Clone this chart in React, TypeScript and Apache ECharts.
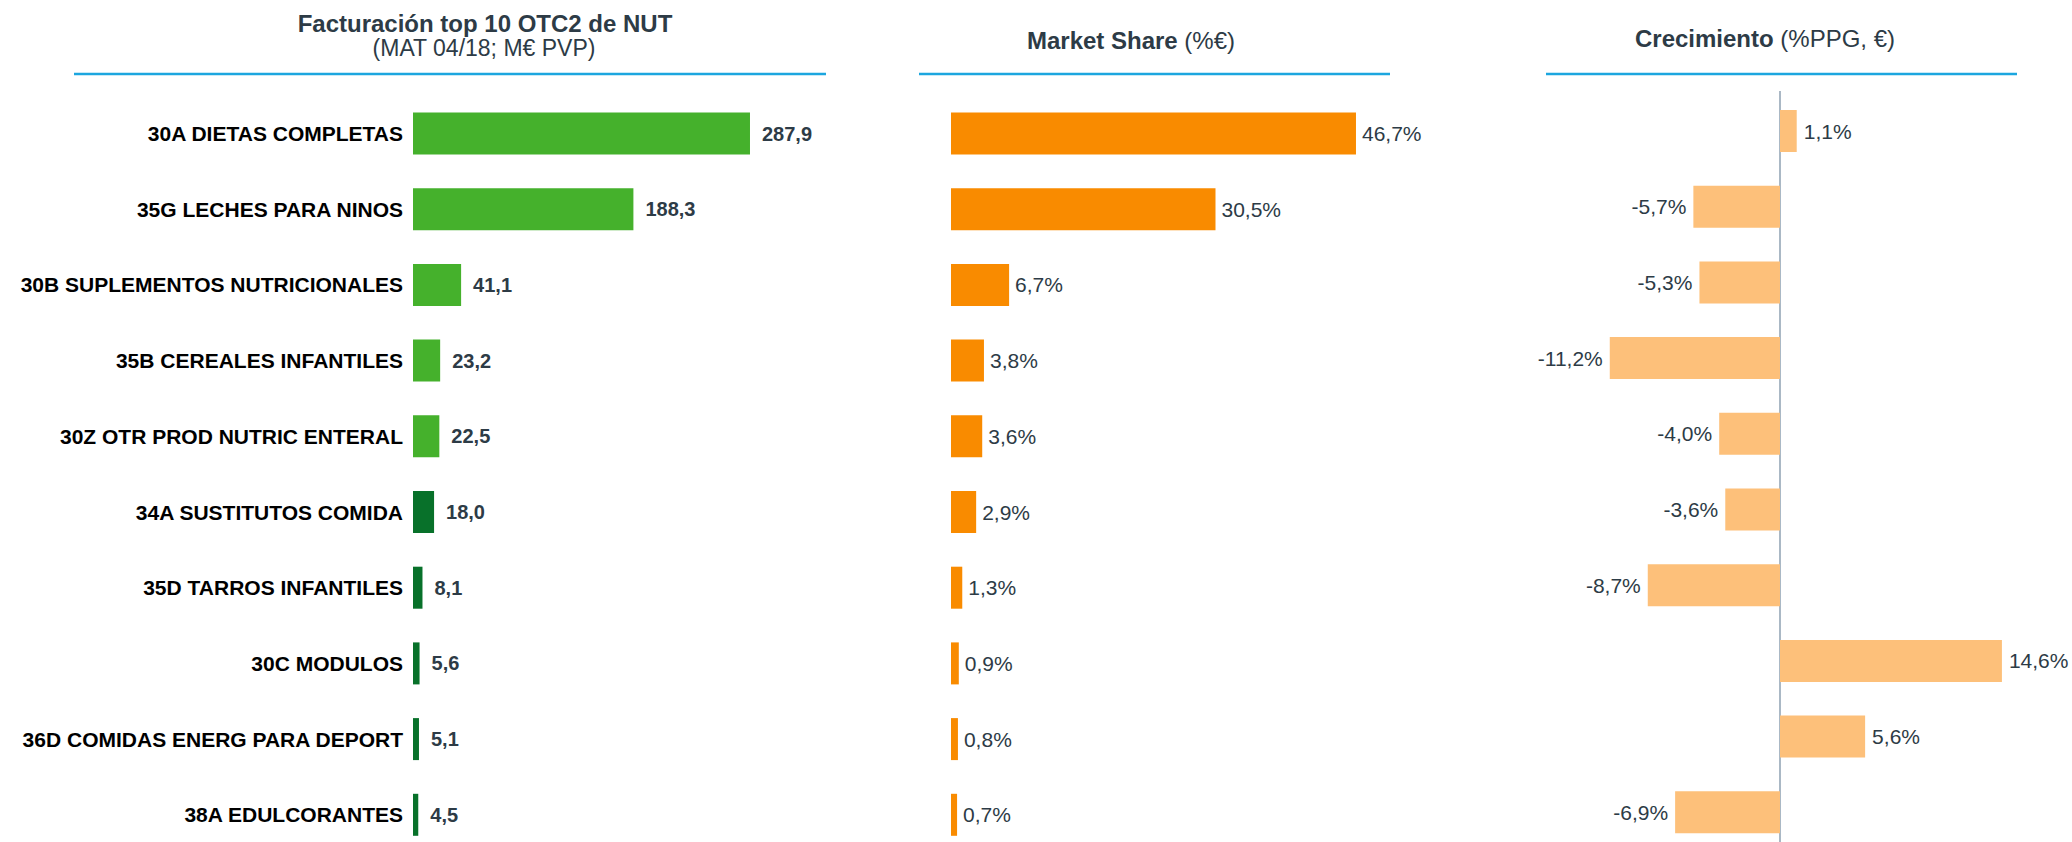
import React, { useEffect, useRef } from "react";
import * as echarts from "echarts";

// Top 10 OTC2 categories of NUT
const categories = [
  "30A DIETAS COMPLETAS",
  "35G LECHES PARA NINOS",
  "30B SUPLEMENTOS NUTRICIONALES",
  "35B CEREALES INFANTILES",
  "30Z OTR PROD NUTRIC ENTERAL",
  "34A SUSTITUTOS COMIDA",
  "35D TARROS INFANTILES",
  "30C MODULOS",
  "36D COMIDAS ENERG PARA DEPORT",
  "38A EDULCORANTES",
];

// Facturación (MAT 04/18; M€ PVP)
const facturacion = [287.9, 188.3, 41.1, 23.2, 22.5, 18.0, 8.1, 5.6, 5.1, 4.5];
// Market share (%€)
const marketShare = [46.7, 30.5, 6.7, 3.8, 3.6, 2.9, 1.3, 0.9, 0.8, 0.7];
// Crecimiento (%PPG, €)
const crecimiento = [1.1, -5.7, -5.3, -11.2, -4.0, -3.6, -8.7, 14.6, 5.6, -6.9];

// categories from this index on are drawn in the darker green
const darkGreenFrom = 5;

const FONT = "'Liberation Sans', Arial, Helvetica, sans-serif";
const LIGHT_GREEN = "#45B12C";
const DARK_GREEN = "#08712A";
const ORANGE = "#F98B00";
const LIGHT_ORANGE = "#FDC07A";
const HEADER_LINE = "#1CA6DF";
const ZERO_LINE = "#8EA1B2";
const TEXT_DARK = "#2D3B46";

const fmt = (v: number) => v.toFixed(1).replace(".", ",");

export default function App() {
  const ref = useRef<HTMLDivElement>(null);

  useEffect(() => {
    if (!ref.current) return;
    const chart = echarts.init(ref.current, undefined, { renderer: "svg" });

    // rows are placed on ticks (boundaryGap false), first row centre to last row centre
    const rowH = 75.7;
    const span = rowH * (categories.length - 1);
    const topA = 133.5;
    const topC = 131;

    // px per unit for each panel
    const sA = 1.1705;
    const sB = 8.672;
    const sC = 15.2;
    const leftC = 1780 - 12 * sC;

    const headerLine = (x1: number, x2: number) => ({
      type: "line",
      shape: { x1, y1: 74, x2, y2: 74 },
      style: { stroke: HEADER_LINE, lineWidth: 2.5 },
      silent: true,
    });

    const catAxis = (gridIndex: number, showLabels: boolean) => ({
      type: "category",
      gridIndex,
      data: categories,
      inverse: true,
      boundaryGap: false,
      axisLine: { show: false },
      axisTick: { show: false },
      splitLine: { show: false },
      axisLabel: showLabels
        ? {
            show: true,
            fontFamily: FONT,
            fontSize: 21,
            fontWeight: "bold",
            color: "#000000",
            margin: 10,
          }
        : { show: false },
    });

    chart.setOption({
      animation: false,
      backgroundColor: "#ffffff",
      textStyle: { fontFamily: FONT },
      grid: [
        { left: 413, top: topA, width: 300 * sA, height: span },
        { left: 951, top: topA, width: 50 * sB, height: span },
        { left: leftC, top: topC, width: 28 * sC, height: span },
        // full-height strip holding the zero line of the growth panel
        { left: leftC, top: 91, width: 28 * sC, bottom: 0 },
      ],
      xAxis: [
        { type: "value", gridIndex: 0, min: 0, max: 300, show: false },
        { type: "value", gridIndex: 1, min: 0, max: 50, show: false },
        { type: "value", gridIndex: 2, min: -12, max: 16, show: false },
        { type: "value", gridIndex: 3, min: -12, max: 16, show: false },
      ],
      yAxis: [
        catAxis(0, true),
        catAxis(1, false),
        catAxis(2, false),
        { type: "value", gridIndex: 3, min: 0, max: 1, show: false },
      ],
      series: [
        {
          type: "line",
          xAxisIndex: 3,
          yAxisIndex: 3,
          symbol: "none",
          silent: true,
          z: 1,
          lineStyle: { color: ZERO_LINE, width: 1.5 },
          data: [
            [0, 0],
            [0, 1],
          ],
        },
        {
          type: "bar",
          xAxisIndex: 0,
          yAxisIndex: 0,
          barWidth: 42,
          clip: false,
          data: facturacion.map((v, i) => ({
            value: v,
            itemStyle: { color: i < darkGreenFrom ? LIGHT_GREEN : DARK_GREEN },
          })),
          label: {
            show: true,
            position: "right",
            distance: 12,
            fontFamily: FONT,
            fontSize: 20,
            fontWeight: "bold",
            color: TEXT_DARK,
            formatter: (p: any) => fmt(p.value),
          },
        },
        {
          type: "bar",
          xAxisIndex: 1,
          yAxisIndex: 1,
          barWidth: 42,
          clip: false,
          itemStyle: { color: ORANGE },
          data: marketShare,
          label: {
            show: true,
            position: "right",
            distance: 6,
            fontFamily: FONT,
            fontSize: 21,
            color: TEXT_DARK,
            formatter: (p: any) => fmt(p.value) + "%",
          },
        },
        {
          type: "bar",
          xAxisIndex: 2,
          yAxisIndex: 2,
          barWidth: 42,
          clip: false,
          z: 3,
          itemStyle: { color: LIGHT_ORANGE },
          data: crecimiento.map((v) => ({
            value: v,
            label: { position: v < 0 ? "left" : "right" },
          })),
          label: {
            show: true,
            distance: 7,
            fontFamily: FONT,
            fontSize: 21,
            color: TEXT_DARK,
            formatter: (p: any) => fmt(p.value) + "%",
          },
        },
      ],
      graphic: [
        headerLine(74, 826),
        headerLine(919, 1390),
        headerLine(1546, 2017),
        {
          type: "text",
          x: 485,
          y: 23,
          style: {
            text: "Facturación top 10 OTC2 de NUT",
            fontFamily: FONT,
            fontSize: 24,
            fontWeight: "bold",
            fill: TEXT_DARK,
            align: "center",
            verticalAlign: "middle",
          },
        },
        {
          type: "text",
          x: 484,
          y: 48,
          style: {
            text: "(MAT 04/18; M€ PVP)",
            fontFamily: FONT,
            fontSize: 23,
            fill: TEXT_DARK,
            align: "center",
            verticalAlign: "middle",
          },
        },
        {
          type: "text",
          x: 1131,
          y: 40,
          style: {
            text: "{b|Market Share} {n|(%€)}",
            fontFamily: FONT,
            fontSize: 24,
            fill: TEXT_DARK,
            align: "center",
            verticalAlign: "middle",
            rich: {
              b: { fontFamily: FONT, fontSize: 24, fontWeight: "bold", fill: TEXT_DARK },
              n: { fontFamily: FONT, fontSize: 24, fill: TEXT_DARK },
            },
          },
        },
        {
          type: "text",
          x: 1765,
          y: 38,
          style: {
            text: "{b|Crecimiento} {n|(%PPG, €)}",
            fontFamily: FONT,
            fontSize: 24,
            fill: TEXT_DARK,
            align: "center",
            verticalAlign: "middle",
            rich: {
              b: { fontFamily: FONT, fontSize: 24, fontWeight: "bold", fill: TEXT_DARK },
              n: { fontFamily: FONT, fontSize: 24, fill: TEXT_DARK },
            },
          },
        },
      ],
    });

    return () => chart.dispose();
  }, []);

  return (
    <div
      ref={ref}
      style={{ position: "absolute", left: 0, top: 0, width: 2072, height: 842 }}
    />
  );
}
